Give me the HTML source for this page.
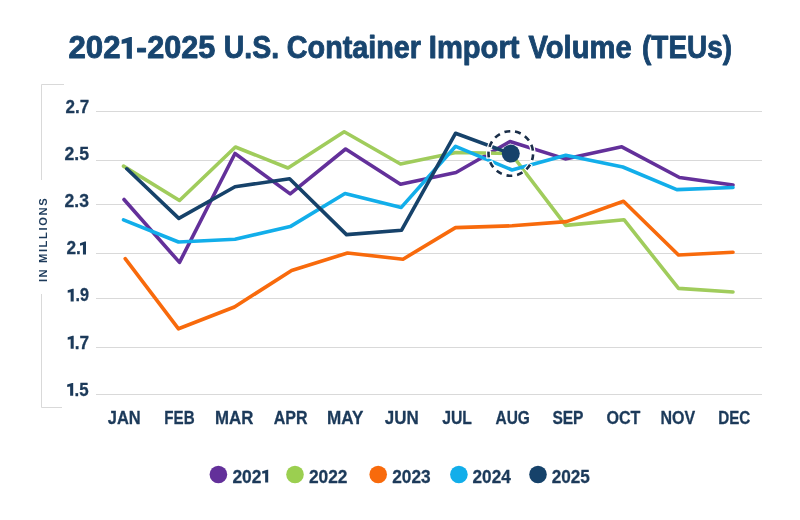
<!DOCTYPE html>
<html><head><meta charset="utf-8"><style>
html,body{margin:0;padding:0;background:#fff;}
svg{display:block;will-change:transform;}
text{font-family:"Liberation Sans",sans-serif;font-weight:bold;}
</style></head><body>
<svg width="800" height="520" viewBox="0 0 800 520">
<rect width="800" height="520" fill="#fff"/>
<text transform="translate(68.51 58.2) scale(0.9901 1)" font-size="31.5" fill="#18456f" stroke="#18456f" stroke-width="0.9" stroke-linejoin="round">202</text>
<text transform="translate(136.17 58.2) scale(1.0159 1)" font-size="31.5" fill="#18456f" stroke="#18456f" stroke-width="0.9" stroke-linejoin="round">-</text>
<text transform="translate(147.13 58.2) scale(0.9729 1)" font-size="31.5" fill="#18456f" stroke="#18456f" stroke-width="0.9" stroke-linejoin="round">2025</text>
<text transform="translate(223.74 58.2) scale(0.9044 1)" font-size="31.5" fill="#18456f" stroke="#18456f" stroke-width="0.9" stroke-linejoin="round">U.S.</text>
<text transform="translate(286.80 58.2) scale(0.9131 1)" font-size="31.5" fill="#18456f" stroke="#18456f" stroke-width="0.9" stroke-linejoin="round">Container</text>
<text transform="translate(428.81 58.2) scale(0.9251 1)" font-size="31.5" fill="#18456f" stroke="#18456f" stroke-width="0.9" stroke-linejoin="round">Import</text>
<text transform="translate(528.56 58.2) scale(0.9251 1)" font-size="31.5" fill="#18456f" stroke="#18456f" stroke-width="0.9" stroke-linejoin="round">Volume</text>
<text transform="translate(642.05 58.2) scale(0.8862 1)" font-size="31.5" fill="#18456f" stroke="#18456f" stroke-width="0.9" stroke-linejoin="round">(TEUs)</text>
<path d="M64 84.5H41.5V180M41.5 294V407.5H62" fill="none" stroke="#d9d9d9" stroke-width="1"/>
<text transform="translate(47 282.1) rotate(-90)" font-size="11.2" fill="#1c3a5a" style="letter-spacing:1.6px">IN MILLIONS</text>
<line x1="96" y1="111.5" x2="762" y2="111.5" stroke="#d9d9d9" stroke-width="1"/>
<line x1="96" y1="160.5" x2="762" y2="160.5" stroke="#d9d9d9" stroke-width="1"/>
<line x1="96" y1="204.5" x2="762" y2="204.5" stroke="#d9d9d9" stroke-width="1"/>
<line x1="96" y1="253.5" x2="762" y2="253.5" stroke="#d9d9d9" stroke-width="1"/>
<line x1="96" y1="298.5" x2="762" y2="298.5" stroke="#d9d9d9" stroke-width="1"/>
<line x1="96" y1="347.5" x2="762" y2="347.5" stroke="#d9d9d9" stroke-width="1"/>
<line x1="96" y1="394.5" x2="762" y2="394.5" stroke="#d9d9d9" stroke-width="1"/>
<text transform="translate(107.82 423.7) scale(0.8901 1)" font-size="18.5" fill="#1c3a5a" stroke="#1c3a5a" stroke-width="0.3" stroke-linejoin="round">JAN</text>
<text transform="translate(164.29 423.7) scale(0.8194 1)" font-size="18.5" fill="#1c3a5a" stroke="#1c3a5a" stroke-width="0.3" stroke-linejoin="round">FEB</text>
<text transform="translate(214.97 423.7) scale(0.9100 1)" font-size="18.5" fill="#1c3a5a" stroke="#1c3a5a" stroke-width="0.3" stroke-linejoin="round">MAR</text>
<text transform="translate(273.67 423.7) scale(0.8659 1)" font-size="18.5" fill="#1c3a5a" stroke="#1c3a5a" stroke-width="0.3" stroke-linejoin="round">APR</text>
<text transform="translate(326.95 423.7) scale(0.9247 1)" font-size="18.5" fill="#1c3a5a" stroke="#1c3a5a" stroke-width="0.3" stroke-linejoin="round">MAY</text>
<text transform="translate(384.81 423.7) scale(0.9169 1)" font-size="18.5" fill="#1c3a5a" stroke="#1c3a5a" stroke-width="0.3" stroke-linejoin="round">JUN</text>
<text transform="translate(442.23 423.7) scale(0.8519 1)" font-size="18.5" fill="#1c3a5a" stroke="#1c3a5a" stroke-width="0.3" stroke-linejoin="round">JUL</text>
<text transform="translate(495.49 423.7) scale(0.8375 1)" font-size="18.5" fill="#1c3a5a" stroke="#1c3a5a" stroke-width="0.3" stroke-linejoin="round">AUG</text>
<text transform="translate(552.38 423.7) scale(0.8415 1)" font-size="18.5" fill="#1c3a5a" stroke="#1c3a5a" stroke-width="0.3" stroke-linejoin="round">SEP</text>
<text transform="translate(606.51 423.7) scale(0.8685 1)" font-size="18.5" fill="#1c3a5a" stroke="#1c3a5a" stroke-width="0.3" stroke-linejoin="round">OCT</text>
<text transform="translate(660.53 423.7) scale(0.8664 1)" font-size="18.5" fill="#1c3a5a" stroke="#1c3a5a" stroke-width="0.3" stroke-linejoin="round">NOV</text>
<text transform="translate(718.29 423.7) scale(0.8202 1)" font-size="18.5" fill="#1c3a5a" stroke="#1c3a5a" stroke-width="0.3" stroke-linejoin="round">DEC</text>
<text transform="translate(65.44 113.0) scale(0.9214 1)" font-size="18.5" fill="#1c3a5a" stroke="#1c3a5a" stroke-width="0.3" stroke-linejoin="round">2.7</text>
<text transform="translate(64.52 160.1) scale(0.9551 1)" font-size="18.5" fill="#1c3a5a" stroke="#1c3a5a" stroke-width="0.3" stroke-linejoin="round">2.5</text>
<text transform="translate(64.52 207.2) scale(0.9500 1)" font-size="18.5" fill="#1c3a5a" stroke="#1c3a5a" stroke-width="0.3" stroke-linejoin="round">2.3</text>
<text transform="translate(66.43 254.3) scale(0.9330 1)" font-size="18.5" fill="#1c3a5a" stroke="#1c3a5a" stroke-width="0.3" stroke-linejoin="round">2.</text>
<text transform="translate(75.42 301.4) scale(0.8738 1)" font-size="18.5" fill="#1c3a5a" stroke="#1c3a5a" stroke-width="0.3" stroke-linejoin="round">.9</text>
<text transform="translate(74.74 348.5) scale(0.9309 1)" font-size="18.5" fill="#1c3a5a" stroke="#1c3a5a" stroke-width="0.3" stroke-linejoin="round">.7</text>
<text transform="translate(74.47 395.6) scale(0.9131 1)" font-size="18.5" fill="#1c3a5a" stroke="#1c3a5a" stroke-width="0.3" stroke-linejoin="round">.5</text>
<text transform="translate(232.43 482.6) scale(0.9426 1)" font-size="18.5" fill="#1c3a5a" stroke="#1c3a5a" stroke-width="0.3" stroke-linejoin="round">202</text>
<text transform="translate(308.93 482.6) scale(0.9378 1)" font-size="18.5" fill="#1c3a5a" stroke="#1c3a5a" stroke-width="0.3" stroke-linejoin="round">2022</text>
<text transform="translate(392.23 482.6) scale(0.9334 1)" font-size="18.5" fill="#1c3a5a" stroke="#1c3a5a" stroke-width="0.3" stroke-linejoin="round">2023</text>
<text transform="translate(472.53 482.6) scale(0.9305 1)" font-size="18.5" fill="#1c3a5a" stroke="#1c3a5a" stroke-width="0.3" stroke-linejoin="round">2024</text>
<text transform="translate(551.63 482.6) scale(0.9291 1)" font-size="18.5" fill="#1c3a5a" stroke="#1c3a5a" stroke-width="0.3" stroke-linejoin="round">2025</text>
<polyline points="124,199.5 179.5,262.4 235,153.5 290.2,193.9 345.6,149 400.5,184.2 456,172.5 510,141.5 565.3,158.9 621.8,146.8 679.5,177.5 733,185" fill="none" stroke="#63309a" stroke-width="3.6" stroke-linejoin="round" stroke-linecap="round"/>
<polyline points="123.5,166.1 179.5,200.5 235.4,147 288,168 344.2,131.8 400.5,164 456,152.5 511,153.5 565.7,225.4 624,219.7 678.5,288.4 733,292" fill="none" stroke="#a0cc5c" stroke-width="3.6" stroke-linejoin="round" stroke-linecap="round"/>
<polyline points="125.2,258.6 178.5,328.8 234.4,307 291.6,270.5 347.5,253 403,259.2 455.5,227.6 512,225.8 566.5,221.6 623.5,201.2 678.5,255 733,252.2" fill="none" stroke="#f86a0c" stroke-width="3.6" stroke-linejoin="round" stroke-linecap="round"/>
<polyline points="123.5,219.8 178.5,242 235,239.3 290.2,226.6 345,193.5 401.3,207.4 455.6,146.3 512,170 565.8,155.3 622.8,167 676.8,189.6 733,187.5" fill="none" stroke="#12aeea" stroke-width="3.6" stroke-linejoin="round" stroke-linecap="round"/>
<polyline points="126.8,168.8 178.8,218.4 235,186.7 289.6,178.8 346.5,234.6 401.6,230.2 455.5,133.3 510.8,153.6" fill="none" stroke="#16426a" stroke-width="3.6" stroke-linejoin="round" stroke-linecap="round"/>
<circle cx="510.8" cy="153.5" r="22.3" fill="none" stroke="#fff" stroke-width="5" stroke-dasharray="7.900 2.878" stroke-dashoffset="10.836"/>
<circle cx="510.8" cy="153.5" r="22.3" fill="none" stroke="#1a2e48" stroke-width="2.6" stroke-dasharray="5.9 4.878" stroke-dashoffset="9.836"/>
<circle cx="510.8" cy="153.6" r="9" fill="#16426a"/>
<path d="M131.90 36.90 L131.90 58.80 L126.70 58.80 L126.70 42.88 L121.66 43.99 L121.66 39.73 L130.01 36.90Z" fill="#18456f"/>
<path d="M86.00 241.50 L86.00 254.50 L82.95 254.50 L82.95 245.01 L79.99 245.66 L79.99 243.16 L84.89 241.50Z" fill="#1c3a5a"/>
<path d="M73.70 288.70 L73.70 301.50 L70.65 301.50 L70.65 292.21 L67.69 292.86 L67.69 290.37 L72.59 288.70Z" fill="#1c3a5a"/>
<path d="M73.70 335.70 L73.70 348.70 L70.65 348.70 L70.65 339.21 L67.69 339.86 L67.69 337.37 L72.59 335.70Z" fill="#1c3a5a"/>
<path d="M73.20 382.90 L73.20 395.80 L70.15 395.80 L70.15 386.41 L67.19 387.06 L67.19 384.56 L72.09 382.90Z" fill="#1c3a5a"/>
<path d="M268.20 469.70 L268.20 482.60 L265.15 482.60 L265.15 473.21 L262.19 473.86 L262.19 471.37 L267.09 469.70Z" fill="#1c3a5a"/>
<circle cx="218.4" cy="474.5" r="8.8" fill="#63309a"/>
<circle cx="295.0" cy="474.5" r="8.8" fill="#9bcf50"/>
<circle cx="378.2" cy="474.5" r="8.8" fill="#f86a0c"/>
<circle cx="458.9" cy="474.5" r="8.8" fill="#12aeea"/>
<circle cx="538.0" cy="474.5" r="8.8" fill="#16426a"/>
</svg>
</body></html>
